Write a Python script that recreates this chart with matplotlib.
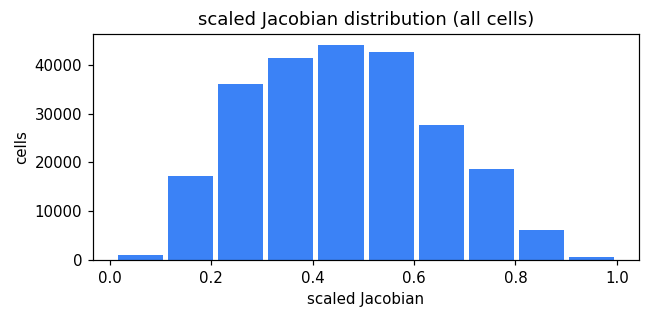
import matplotlib
matplotlib.use('Agg')
import matplotlib.pyplot as plt
import numpy as np

# histogram of scaled Jacobian values, bins from min to max
bin_edges = np.linspace(0.011, 1.0, 11)
counts = [1000, 17200, 36100, 41400, 44100, 42700, 27700, 18700, 6150, 600]

dpi = 108
fig, ax = plt.subplots(figsize=(649 / dpi, 318 / dpi), dpi=dpi)
widths = np.diff(bin_edges)
centers = bin_edges[:-1] + widths / 2
ax.bar(centers, counts, width=widths * 0.9, color='#3b82f6')

ax.set_title('scaled Jacobian distribution (all cells)')
ax.set_xlabel('scaled Jacobian')
ax.set_ylabel('cells')

plt.subplots_adjust(left=0.143, right=0.985, top=0.893, bottom=0.182)
plt.savefig('out.png', dpi=dpi)
